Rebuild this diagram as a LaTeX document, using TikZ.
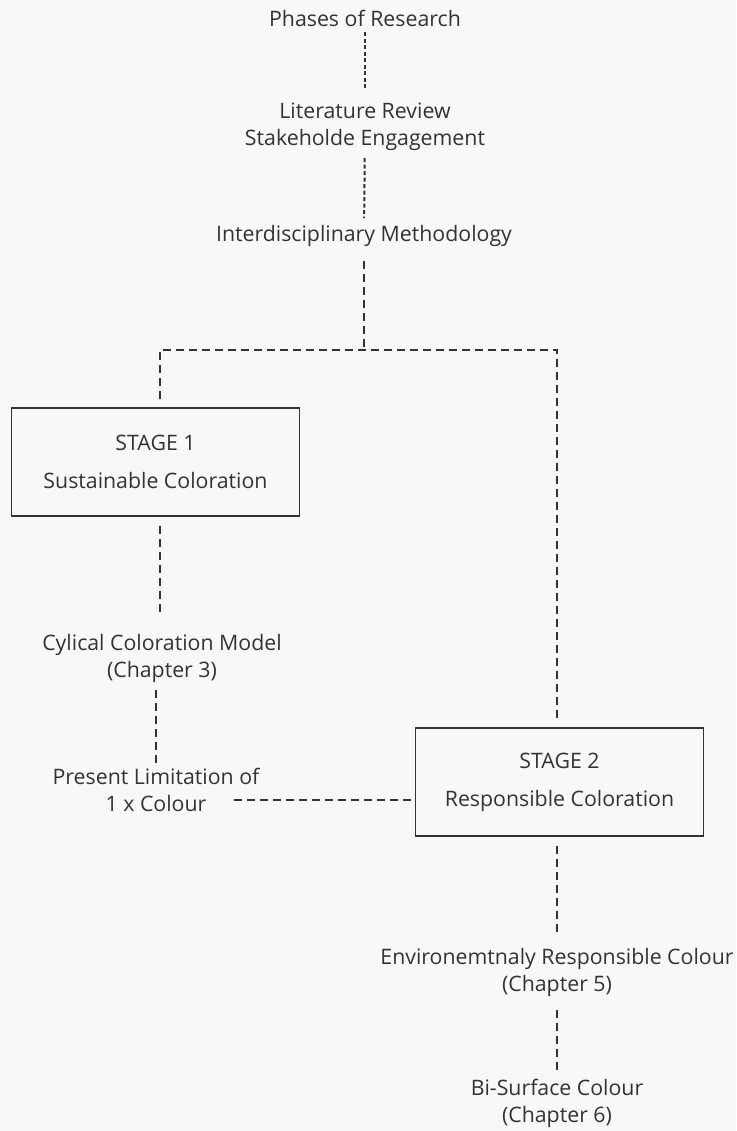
\documentclass[tikz,border=0pt]{standalone}
\usepackage{fontspec}
\setmainfont{Open Sans}
\usepackage{tikz}
\usetikzlibrary{positioning,calc}

\definecolor{ink}{HTML}{333333}
\definecolor{paper}{HTML}{F8F8F8}

\tikzset{
    lbl/.style={text=ink, align=center, inner sep=0pt,
        font=\fontsize{21.3}{27}\selectfont},
    stagebox/.style={lbl, draw=ink, line width=1.6pt,
        minimum width=288pt, minimum height=108pt},
    fine/.style={draw=ink, line width=2pt, dash pattern=on 4pt off 2.5pt},
    link/.style={draw=ink, line width=2pt, dash pattern=on 8pt off 5pt},
}

\begin{document}
\begin{tikzpicture}[x=1pt,y=-1pt]
    % Page
    \fill[paper] (0,0) rectangle (736,1131);
    \useasboundingbox (0,0) rectangle (736,1131);

    % Research phases
    \node[lbl] (phases) at (365,18) {Phases of Research};
    \node[lbl] (lit) at (365,127) {Literature Review\\Stakeholde Engagement};
    \node[lbl] (meth) at (364,236) {Interdisciplinary Methodology};

    % Stages
    \node[stagebox] (stage1) at (155.5,462) {STAGE 1\\[11pt]Sustainable Coloration};
    \node[stagebox] (stage2) at (559.5,782) {STAGE 2\\[11pt]Responsible Coloration};

    % Outcomes
    \node[lbl] (cyc) at (162,658) {Cylical Coloration Model\\(Chapter 3)};
    \node[lbl] (limit) at (156,790) {Present Limitation of\\1 x Colour};
    \node[lbl] (env) at (557,972) {Environemtnaly Responsible Colour\\(Chapter 5)};
    \node[lbl] (bi) at (557,1103) {Bi-Surface Colour\\(Chapter 6)};

    % Branch points
    \coordinate (split) at (364,350);
    \coordinate (left) at (160,350);
    \coordinate (right) at (557,350);
    \coordinate (gap) at ([shift={(-4,18)}]stage2.west);

    % Connectors
    \draw[fine, shorten <=6pt, shorten >=12pt] (phases) -- (lit);
    \draw[fine, shorten <=7pt, shorten >=7pt] (lit) -- (meth);
    \draw[link, shorten <=14pt] (meth) -- (split);
    \draw[link, shorten <=8pt, shorten >=8pt]
        (left |- stage1.north) -- (left) -- (right) -- (right |- stage2.north);
    \draw[link, shorten <=9pt, shorten >=19pt] (stage1.south -| left) -- (cyc.north -| left);
    \draw[link, shorten <=8pt, shorten >=4pt] (cyc.south -| limit) -- (limit.north);
    \draw[link] (gap) -- (gap -| 232,0);
    \draw[link, shorten <=9pt, shorten >=14pt] (stage2.south -| env) -- (env.north);
    \draw[link, shorten <=14pt, shorten >=8pt] (env) -- (bi);
\end{tikzpicture}
\end{document}
